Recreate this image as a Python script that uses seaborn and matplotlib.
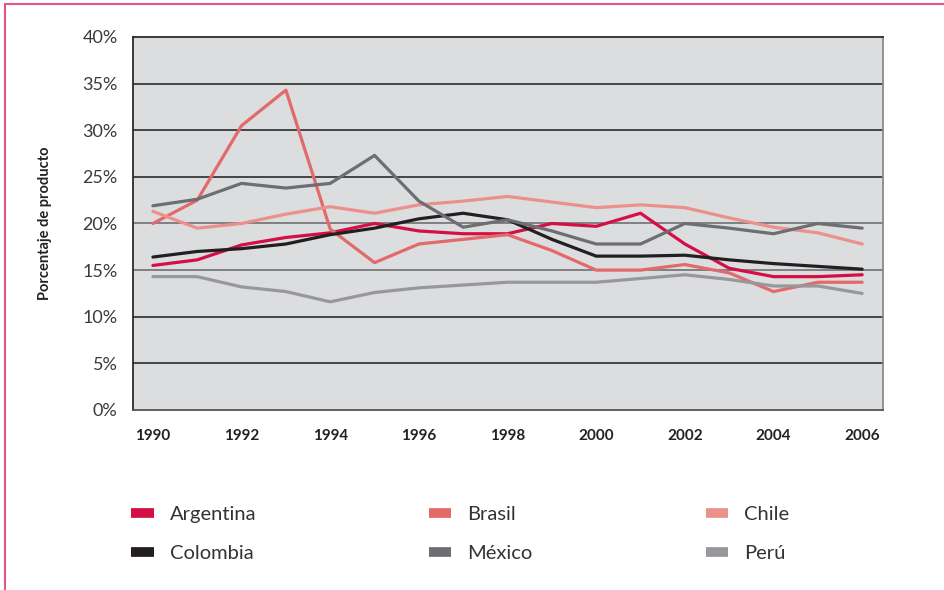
import pandas as pd
import matplotlib.pyplot as plt
import seaborn as sns
from matplotlib.lines import Line2D
from matplotlib.ticker import PercentFormatter

# Datos (porcentaje de producto)
years = list(range(1990, 2007))
argentina = [15.5, 16.1, 17.7, 18.5, 19.0, 20.0, 19.2, 18.9, 18.9, 20.0, 19.7, 21.1, 17.8, 15.2, 14.3, 14.3, 14.5]
brasil = [20.0, 22.5, 30.5, 34.3, 19.4, 15.8, 17.8, 18.3, 18.8, 17.1, 15.0, 15.0, 15.6, 14.7, 12.7, 13.7, 13.7]
chile = [21.3, 19.5, 20.0, 21.0, 21.8, 21.1, 22.0, 22.4, 22.9, 22.3, 21.7, 22.0, 21.7, 20.6, 19.6, 19.0, 17.8]
colombia = [16.4, 17.0, 17.3, 17.8, 18.8, 19.5, 20.5, 21.1, 20.4, 18.3, 16.5, 16.5, 16.6, 16.1, 15.7, 15.4, 15.1]
mexico = [21.9, 22.6, 24.3, 23.8, 24.3, 27.3, 22.4, 19.6, 20.4, 19.2, 17.8, 17.8, 20.0, 19.5, 18.9, 20.0, 19.5]
peru = [14.3, 14.3, 13.2, 12.7, 11.6, 12.6, 13.1, 13.4, 13.7, 13.7, 13.7, 14.1, 14.5, 14.0, 13.3, 13.3, 12.5]

series = {
    'Argentina': argentina,
    'Brasil': brasil,
    'Chile': chile,
    'Colombia': colombia,
    'México': mexico,
    'Perú': peru,
}
colors = {
    'Argentina': '#d40f45',
    'Brasil': '#e26a6b',
    'Chile': '#ec908b',
    'Colombia': '#231f20',
    'México': '#6d6e71',
    'Perú': '#98989c',
}

df = pd.concat(
    [pd.DataFrame({'year': years, 'value': v, 'country': k}) for k, v in series.items()],
    ignore_index=True,
)

sns.set_style('white')
plt.rcParams['font.family'] = ['Lato', 'DejaVu Sans']

fig = plt.figure(figsize=(9.45, 5.9), dpi=100)
ax = fig.add_axes([0.1407, 0.3051, 0.7937, 0.6322])
ax.set_facecolor('#dcdddf')

# lineas de cuadricula
for lvl in range(5, 40, 5):
    c = '#707073' if lvl in (15, 20) else '#2b2b2b'
    ax.axhline(lvl, color=c, linewidth=1.2, zorder=1)

sns.lineplot(data=df, x='year', y='value', hue='country', palette=colors,
             linewidth=2.3, legend=False, ax=ax, zorder=3)

ax.set_xlim(1989.55, 2006.47)
ax.set_ylim(0, 40)
ax.set_xticks(list(range(1990, 2007, 2)))
ax.set_xticklabels([str(y) for y in range(1990, 2007, 2)], fontweight='bold',
                   fontsize=11, color='#222222')
ax.set_yticks(list(range(0, 41, 5)))
ax.yaxis.set_major_formatter(PercentFormatter(decimals=0))
ax.tick_params(axis='y', length=0, pad=11, labelsize=13, labelcolor='#3a3a3a')
ax.tick_params(axis='x', length=0, pad=14)
ax.set_xlabel('')
ax.set_ylabel('Porcentaje de producto', fontweight='bold', fontsize=10.5,
              color='#222222', labelpad=22)

for side, col in [('left', '#2b2b2b'), ('top', '#2b2b2b'), ('bottom', '#555555'), ('right', '#8a8a8a')]:
    ax.spines[side].set_visible(True)
    ax.spines[side].set_color(col)
    ax.spines[side].set_linewidth(1.3)

# leyenda (filas: Argentina/Brasil/Chile, Colombia/México/Perú)
order = ['Argentina', 'Colombia', 'Brasil', 'México', 'Chile', 'Perú']
handles = [Line2D([], [], color=colors[k], linewidth=7, solid_capstyle='butt') for k in order]
leg = fig.legend(handles, order, ncol=3, loc='upper left', bbox_to_anchor=(0.139, 0.143),
                 frameon=False, fontsize=14.5, handlelength=1.1, handletextpad=0.8,
                 columnspacing=8.6, labelspacing=1.1, borderaxespad=0, borderpad=0)
for t in leg.get_texts():
    t.set_color('#333333')

# borde rosado del recuadro
fig.add_artist(Line2D([5 / 945, 5 / 945], [0, 1 - 4 / 590], transform=fig.transFigure,
                      color='#e4558a', linewidth=1.5))
fig.add_artist(Line2D([5 / 945, 1], [1 - 4 / 590, 1 - 4 / 590], transform=fig.transFigure,
                      color='#e4558a', linewidth=1.5))

fig.savefig('out.png', dpi=100)
